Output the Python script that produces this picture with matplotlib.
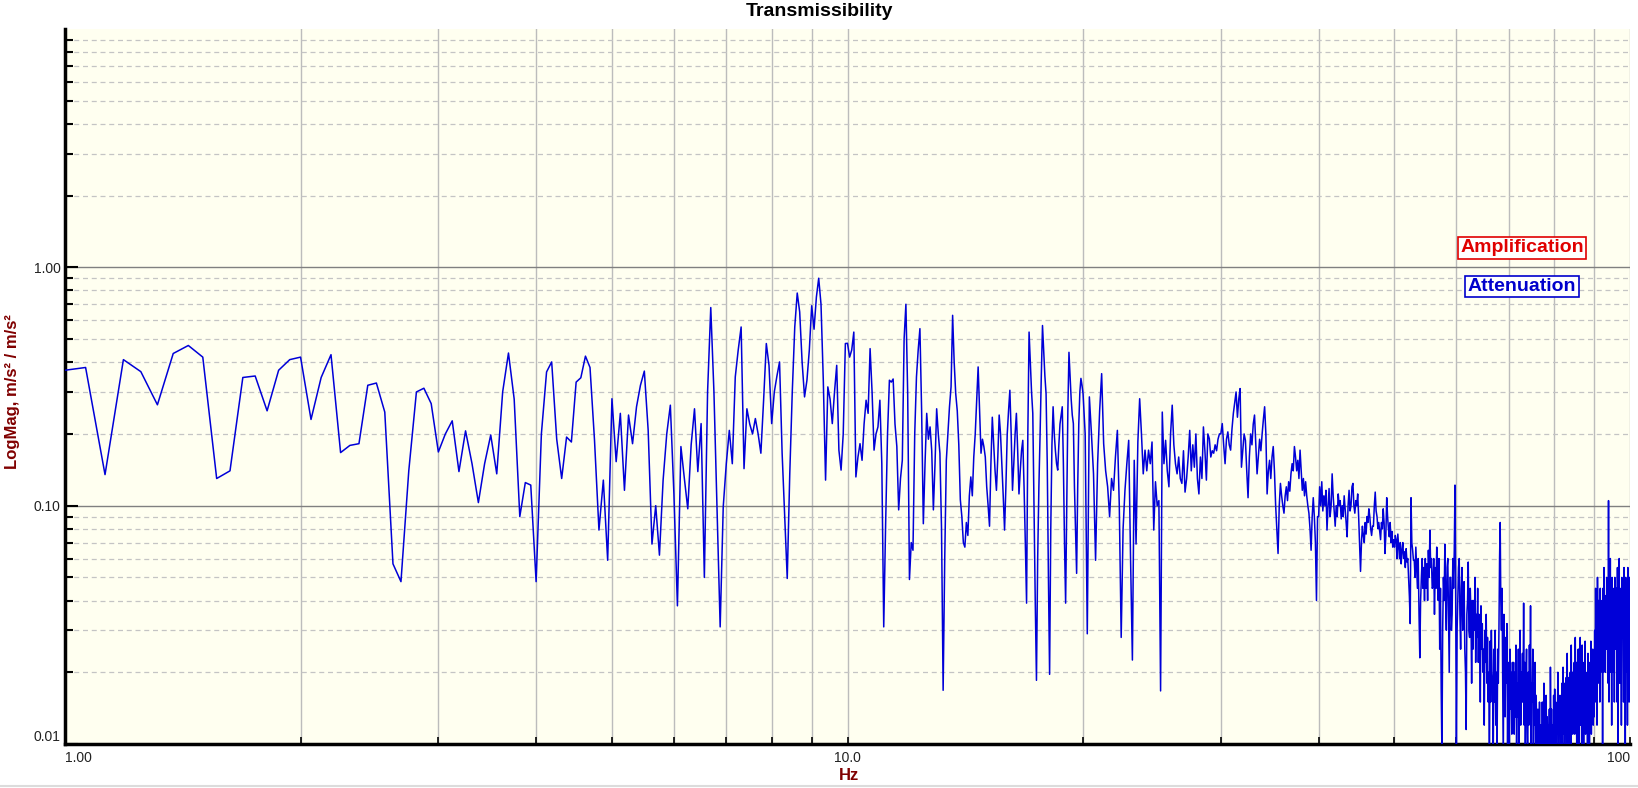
import numpy as np
import matplotlib
matplotlib.use('Agg')
import matplotlib.pyplot as plt
from matplotlib.ticker import FixedLocator, LogLocator, NullFormatter
from matplotlib.lines import Line2D

plt.rcParams['font.family'] = ['Liberation Sans', 'DejaVu Sans']

# transmissibility magnitude, read off the plot block by block
# (start Hz, bin width Hz, values)
start_1, step_1 = 1.0, 0.0625
mag_1 = [
    0.37, 0.38, 0.135, 0.41, 0.365, 0.265, 0.435, 0.47, 0.42, 0.13, 0.14, 0.345, 0.35, 0.25, 0.37, 0.41,
    0.42, 0.23, 0.345, 0.43, 0.167, 0.179, 0.182, 0.32, 0.327, 0.247, 0.057, 0.048, 0.14, 0.30, 0.311, 0.268,
    0.168, 0.2, 0.227, 0.139, 0.206, 0.15, 0.103, 0.15, 0.198, 0.136, 0.30, 0.437, 0.28, 0.09, 0.125, 0.122,
    0.048, 0.2, 0.364, 0.401, 0.19, 0.13, 0.194, 0.185, 0.33, 0.344, 0.424, 0.38, 0.188, 0.079, 0.128, 0.059,
    0.281, 0.153, 0.244, 0.116, 0.24, 0.182, 0.26, 0.32, 0.367, 0.207, 0.069, 0.1, 0.062, 0.128, 0.2, 0.264,
    0.112, 0.038, 0.177, 0.13, 0.097, 0.18, 0.255, 0.139, 0.221, 0.05, 0.3, 0.678, 0.3, 0.097, 0.031, 0.099,
    0.15, 0.207, 0.15, 0.347, 0.45, 0.562, 0.143, 0.255, 0.22, 0.2, 0.232, 0.2, 0.166, 0.277, 0.479, 0.388,
    0.221, 0.3, 0.35, 0.401, 0.166, 0.09, 0.0495, 0.136, 0.3, 0.562, 0.78, 0.65, 0.4, 0.286, 0.336, 0.45,
    0.69, 0.55, 0.75, 0.9, 0.7, 0.336, 0.128, 0.315, 0.28, 0.221, 0.3, 0.388, 0.171, 0.141, 0.2, 0.479,
]

start_2, step_2 = 10.0, 0.0625
mag_2 = [
    0.48, 0.42, 0.45, 0.535, 0.132, 0.16, 0.182, 0.155, 0.22, 0.277, 0.244, 0.456, 0.3, 0.171, 0.2, 0.214,
    0.277, 0.15, 0.031, 0.084, 0.2, 0.336, 0.33, 0.34, 0.22, 0.177, 0.096, 0.13, 0.155, 0.5, 0.70, 0.295,
    0.049, 0.07, 0.065, 0.2, 0.347, 0.45, 0.553, 0.25, 0.084, 0.15, 0.244, 0.19, 0.214, 0.17, 0.096, 0.15,
    0.255, 0.2, 0.166, 0.08, 0.0168, 0.06, 0.155, 0.2, 0.26, 0.315, 0.629, 0.4, 0.295, 0.25, 0.18, 0.106,
    0.09, 0.07, 0.067, 0.085, 0.075, 0.11, 0.132, 0.11, 0.16, 0.2, 0.28, 0.382, 0.25, 0.166, 0.19, 0.177,
    0.16, 0.12, 0.1, 0.082, 0.15, 0.235, 0.18, 0.14, 0.116, 0.16, 0.24, 0.2, 0.15, 0.11, 0.079, 0.12,
    0.2, 0.25, 0.305, 0.2, 0.116, 0.15, 0.2, 0.244, 0.17, 0.112, 0.14, 0.17, 0.188, 0.12, 0.07, 0.039,
    0.2, 0.535, 0.4, 0.3, 0.244, 0.1, 0.04, 0.0185, 0.06, 0.12, 0.2, 0.35, 0.57, 0.45, 0.35, 0.295,
    0.15, 0.05, 0.0196, 0.08, 0.18, 0.26, 0.2, 0.17, 0.15, 0.141, 0.18, 0.22, 0.24, 0.26, 0.15, 0.07,
    0.039, 0.1, 0.25, 0.44, 0.35, 0.28, 0.24, 0.221, 0.12, 0.08, 0.052, 0.12, 0.22, 0.3, 0.342, 0.32,
]

start_3, step_3 = 20.0, 0.125
mag_3 = [
    0.295, 0.2, 0.029, 0.286, 0.2, 0.136, 0.059, 0.15,
    0.25, 0.358, 0.182, 0.14, 0.12, 0.09, 0.13, 0.116,
    0.16, 0.207, 0.1, 0.028, 0.08, 0.116, 0.15, 0.188,
    0.06, 0.0225, 0.155, 0.069, 0.185, 0.281, 0.2, 0.136,
    0.171, 0.14, 0.171, 0.15, 0.185, 0.079, 0.126, 0.1,
    0.105, 0.0167, 0.247, 0.15, 0.188, 0.14, 0.12, 0.2,
    0.264, 0.18, 0.15, 0.136, 0.16, 0.13, 0.124, 0.17,
    0.114, 0.13, 0.16, 0.207, 0.14, 0.18, 0.145, 0.2,
    0.13, 0.112, 0.16, 0.13, 0.214, 0.17, 0.128, 0.2,
    0.191, 0.16, 0.17, 0.166, 0.18, 0.17, 0.19, 0.2,
    0.2, 0.221, 0.18, 0.15, 0.19, 0.204, 0.18, 0.171,
    0.21, 0.244, 0.27, 0.3, 0.235, 0.28, 0.31, 0.145,
    0.17, 0.2, 0.188, 0.14, 0.108, 0.16, 0.2, 0.18,
    0.22, 0.24, 0.18, 0.136, 0.16, 0.19, 0.17, 0.2,
    0.23, 0.26, 0.2, 0.112, 0.14, 0.155, 0.13, 0.16,
    0.177, 0.14, 0.1, 0.079, 0.063, 0.1, 0.124, 0.11,
    0.1, 0.093, 0.11, 0.12, 0.105, 0.126, 0.115, 0.136,
    0.15, 0.14, 0.177, 0.16, 0.14, 0.155, 0.13, 0.171,
    0.14, 0.116, 0.13, 0.11, 0.126, 0.11, 0.1, 0.093,
    0.08, 0.065, 0.09, 0.108, 0.09, 0.07, 0.04, 0.09,
]

start_4, step_4 = 40.0, 0.125
mag_4 = [
    0.09, 0.12, 0.1, 0.126, 0.095, 0.11, 0.1, 0.116,
    0.079, 0.1, 0.118, 0.09, 0.1, 0.136, 0.11, 0.095,
    0.082, 0.1, 0.09, 0.112, 0.1, 0.105, 0.088, 0.1,
    0.09, 0.11, 0.097, 0.085, 0.074, 0.1, 0.116, 0.095,
    0.1, 0.12, 0.124, 0.1, 0.093, 0.105, 0.1, 0.112,
    0.09, 0.07, 0.053, 0.07, 0.082, 0.075, 0.07, 0.085,
    0.076, 0.09, 0.085, 0.097, 0.09, 0.08, 0.075, 0.082,
    0.082, 0.1, 0.114, 0.095, 0.09, 0.08, 0.085, 0.078,
    0.072, 0.085, 0.08, 0.097, 0.085, 0.063, 0.075, 0.108,
    0.09, 0.08, 0.074, 0.085, 0.07, 0.078, 0.067, 0.072,
    0.067, 0.075, 0.072, 0.06, 0.076, 0.068, 0.06, 0.07,
    0.057, 0.065, 0.07, 0.06, 0.064, 0.055, 0.066, 0.058,
    0.06, 0.05, 0.0415, 0.032, 0.108, 0.07, 0.065, 0.059,
    0.059, 0.05, 0.067, 0.055, 0.045, 0.06, 0.035, 0.023,
    0.04, 0.05, 0.06, 0.045, 0.055, 0.04, 0.06, 0.045,
    0.057, 0.04, 0.065, 0.05, 0.079, 0.055, 0.06, 0.045,
    0.0455, 0.06, 0.035, 0.055, 0.045, 0.067, 0.05, 0.04,
    0.06, 0.025, 0.045, 0.0167, 0.009, 0.03, 0.05, 0.04,
    0.069, 0.04, 0.03, 0.055, 0.06, 0.035, 0.02, 0.05,
    0.05, 0.03, 0.035, 0.06, 0.045, 0.065, 0.122, 0.04,
    0.009, 0.03, 0.04, 0.055, 0.06, 0.035, 0.025, 0.045,
    0.055, 0.03, 0.04, 0.048, 0.025, 0.02, 0.0115, 0.035,
    0.04, 0.058, 0.03, 0.028, 0.045, 0.035, 0.018, 0.04,
    0.025, 0.04, 0.03, 0.05, 0.022, 0.035, 0.028, 0.045,
    0.022, 0.035, 0.03, 0.015, 0.038, 0.025, 0.032, 0.02,
    0.025, 0.012, 0.03, 0.022, 0.035, 0.018, 0.028, 0.015,
    0.02, 0.008, 0.027, 0.015, 0.03, 0.02, 0.018, 0.009,
    0.025, 0.015, 0.03, 0.012, 0.02, 0.009, 0.025, 0.018,
    0.03, 0.06, 0.085, 0.04, 0.03, 0.045, 0.02, 0.008,
    0.035, 0.02, 0.013, 0.028, 0.018, 0.032, 0.009, 0.022,
    0.018, 0.009, 0.025, 0.014, 0.02, 0.011, 0.022, 0.016,
    0.022, 0.011, 0.02, 0.013, 0.026, 0.009, 0.018, 0.013,
    0.025, 0.009, 0.018, 0.03, 0.012, 0.02, 0.015, 0.024,
    0.015, 0.039, 0.012, 0.022, 0.01, 0.018, 0.025, 0.012,
    0.008, 0.02, 0.012, 0.026, 0.015, 0.038, 0.01, 0.018,
    0.015, 0.025, 0.009, 0.018, 0.012, 0.022, 0.008, 0.016,
    0.011, 0.008, 0.014, 0.01, 0.009, 0.015, 0.008, 0.012,
    0.012, 0.008, 0.015, 0.009, 0.011, 0.018, 0.009, 0.013,
    0.009, 0.016, 0.01, 0.013, 0.008, 0.012, 0.01, 0.014,
    0.008, 0.021, 0.011, 0.014, 0.009, 0.012, 0.008, 0.016,
    0.009, 0.017, 0.01, 0.015, 0.008, 0.013, 0.011, 0.02,
    0.008, 0.013, 0.012, 0.016, 0.009, 0.014, 0.01, 0.018,
    0.009, 0.021, 0.011, 0.018, 0.01, 0.015, 0.012, 0.019,
    0.01, 0.024, 0.012, 0.019, 0.009, 0.016, 0.013, 0.02,
    0.01, 0.026, 0.013, 0.02, 0.011, 0.017, 0.014, 0.022,
    0.011, 0.028, 0.014, 0.022, 0.009, 0.018, 0.012, 0.025,
    0.009, 0.025, 0.015, 0.028, 0.012, 0.02, 0.01, 0.026,
    0.013, 0.018, 0.009, 0.022, 0.012, 0.027, 0.011, 0.019,
    0.013, 0.02, 0.009, 0.024, 0.015, 0.018, 0.01, 0.022,
    0.012, 0.027, 0.011, 0.019, 0.014, 0.025, 0.012, 0.02,
    0.013, 0.03, 0.015, 0.045, 0.02, 0.035, 0.012, 0.05,
    0.025, 0.04, 0.018, 0.035, 0.015, 0.045, 0.02, 0.03,
    0.025, 0.04, 0.009, 0.045, 0.02, 0.055, 0.03, 0.042,
    0.02, 0.035, 0.025, 0.05, 0.03, 0.045, 0.018, 0.105,
    0.015, 0.05, 0.025, 0.06, 0.02, 0.04, 0.012, 0.05,
    0.02, 0.045, 0.03, 0.038, 0.015, 0.05, 0.025, 0.04,
    0.025, 0.045, 0.015, 0.055, 0.009, 0.04, 0.02, 0.06,
    0.018, 0.035, 0.025, 0.045, 0.012, 0.05, 0.03, 0.04,
    0.03, 0.015, 0.055, 0.02, 0.045, 0.01, 0.05, 0.025,
    0.02, 0.04, 0.012, 0.055, 0.025, 0.035, 0.015, 0.05,
    0.03,
]

x_ticks = [1, 10, 100]
x_tick_labels = ['1.00', '10.0', '100']
y_ticks = [0.01, 0.1, 1]
y_tick_labels = ['0.01', '0.10', '1.00']

blocks = [(start_1, step_1, mag_1), (start_2, step_2, mag_2),
          (start_3, step_3, mag_3), (start_4, step_4, mag_4)]
freq = np.concatenate([s + d * np.arange(len(m)) for s, d, m in blocks])
mag = np.concatenate([np.array(m) for s, d, m in blocks])

fig = plt.figure(figsize=(16.38, 7.88), dpi=100)
ax = fig.add_axes([65 / 1638, 44 / 788, 1565 / 1638, 715 / 788])
ax.set_facecolor('#fffff0')
ax.set_xscale('log')
ax.set_yscale('log')

ax.plot(freq, mag, color='#0000d8', lw=1.1, zorder=3)

ax.set_xlim(1, 100)
ax.set_ylim(0.01, 10)

ax.xaxis.set_major_locator(FixedLocator(x_ticks))
ax.xaxis.set_minor_locator(LogLocator(base=10, subs=np.arange(2, 10), numticks=20))
ax.xaxis.set_minor_formatter(NullFormatter())
ax.set_xticklabels(x_tick_labels)
ax.yaxis.set_major_locator(FixedLocator(y_ticks))
ax.yaxis.set_minor_locator(LogLocator(base=10, subs=np.arange(2, 10), numticks=20))
ax.yaxis.set_minor_formatter(NullFormatter())
ax.set_yticklabels(y_tick_labels)

xl = ax.get_xticklabels()
xl[0].set_ha('left')
xl[-1].set_ha('right')
ax.get_yticklabels()[0].set_va('bottom')

ax.grid(True, which='major', axis='y', color='#808080', lw=1.0, ls='-')
ax.grid(True, which='minor', axis='y', color='#c4c4c4', lw=0.9, ls=(0, (4, 3)))
ax.grid(True, which='both', axis='x', color='#bcbcbc', lw=1.0, ls='-')
ax.set_axisbelow(True)

for side in ['top', 'right']:
    ax.spines[side].set_visible(False)
for side in ['left', 'bottom']:
    ax.spines[side].set_linewidth(2.5)
    ax.spines[side].set_color('black')

ax.tick_params(axis='y', which='major', direction='in', length=9, width=1.5,
               labelsize=10, pad=3, labelcolor='#222222')
ax.tick_params(axis='y', which='minor', direction='in', length=6, width=1.5)
ax.tick_params(axis='x', which='both', direction='in', length=5, width=1.2,
               labelsize=10, pad=5, labelcolor='#222222')

ax.text(0.931, 0.694, 'Amplification', transform=ax.transAxes, ha='center', va='center',
        color='#e00000', fontsize=14, fontweight='bold', zorder=5,
        bbox=dict(boxstyle='square,pad=0.12', fc='white', ec='#e00000', lw=1.2))
ax.text(0.931, 0.640, 'Attenuation', transform=ax.transAxes, ha='center', va='center',
        color='#0000cc', fontsize=14, fontweight='bold', zorder=5,
        bbox=dict(boxstyle='square,pad=0.12', fc='white', ec='#0000cc', lw=1.2))

fig.text(0.5, 1 - 12 / 788, 'Transmissibility', ha='center', va='center',
         fontsize=14, fontweight='bold')
fig.text(13 / 1638, 0.5025, 'LogMag, m/s² / m/s²', rotation=90, ha='center', va='center',
         color='#800000', fontsize=12, fontweight='bold')
fig.text(849 / 1638, 1 - 775 / 788, 'Hz', ha='center', va='center',
         color='#800000', fontsize=12, fontweight='bold')

fig.add_artist(Line2D([0, 1], [1 - 786 / 788] * 2, color='#dcdcdc', lw=1.5,
                      transform=fig.transFigure))

fig.savefig('out.png', dpi=100)
